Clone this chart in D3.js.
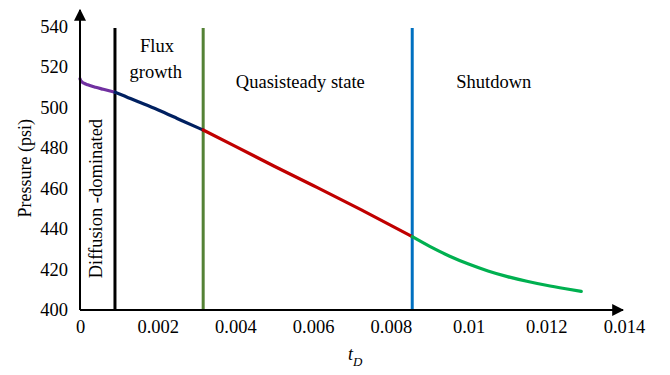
<!DOCTYPE html>
<html>
<head>
<meta charset="utf-8">
<script src="https://cdn.jsdelivr.net/npm/d3@7/dist/d3.min.js"></script>
<style>
  html, body { margin: 0; padding: 0; background: #fff; }
  svg { display: block; }
  svg text { font-family: "Liberation Serif", "Times New Roman", serif; fill: #000; }
</style>
</head>
<body>
<svg id="chart" width="670" height="375"></svg>
<script>
// Pressure history by flow regime (dimensionless time t_D vs pressure, psi)
const diffusionT = [0, 0.00003, 0.0001, 0.0002, 0.0004, 0.0006, 0.0009];
const diffusionP = [514.2, 513.0, 512.0, 511.2, 510.0, 509.0, 507.5];

const fluxT = [0.0009, 0.0012, 0.0015, 0.002, 0.0025, 0.003, 0.00317];
const fluxP = [507.5, 505.2, 502.8, 498.9, 494.6, 490.3, 488.9];

const quasiT = [0.00317, 0.004, 0.005, 0.006, 0.007, 0.008, 0.00855];
const quasiP = [488.9, 480.8, 471.0, 461.5, 451.8, 441.8, 436.2];

const shutdownT = [0.00855, 0.009, 0.0095, 0.01, 0.0105, 0.011, 0.0115, 0.012, 0.0125, 0.0129];
const shutdownP = [436.2, 431.4, 426.7, 422.7, 419.3, 416.5, 414.2, 412.2, 410.5, 409.2];

// Regime boundaries (vertical markers)
const boundaryT = [0.0009, 0.00317, 0.00855];
const boundaryColors = ["#000000", "#548235", "#0070C0"];

const xTicks = [0, 0.002, 0.004, 0.006, 0.008, 0.01, 0.012, 0.014];
const xTickLabels = ["0", "0.002", "0.004", "0.006", "0.008", "0.01", "0.012", "0.014"];
const yTicks = [400, 420, 440, 460, 480, 500, 520, 540];

const svg = d3.select("#chart");
const x = d3.scaleLinear().domain([0, 0.014]).range([80, 624]);
const y = d3.scaleLinear().domain([400, 540]).range([310, 26.5]);

// Arrowhead for the axes
svg.append("defs").append("marker")
  .attr("id", "arrow")
  .attr("viewBox", "0 0 10 10")
  .attr("refX", 9).attr("refY", 5)
  .attr("markerWidth", 6).attr("markerHeight", 6)
  .attr("markerUnits", "strokeWidth")
  .attr("orient", "auto")
  .append("path").attr("d", "M0,0 L10,5 L0,10 Z").attr("fill", "#000");

// Regime boundary lines
svg.append("g").selectAll("line")
  .data(boundaryT)
  .join("line")
  .attr("x1", d => x(d)).attr("x2", d => x(d))
  .attr("y1", y(400)).attr("y2", y(539.2))
  .attr("stroke", (d, i) => boundaryColors[i])
  .attr("stroke-width", 3);

// Pressure curve, one coloured segment per regime
const segments = [
  { t: diffusionT, p: diffusionP, color: "#7030A0", curve: d3.curveMonotoneX },
  { t: fluxT, p: fluxP, color: "#002060", curve: d3.curveNatural },
  { t: quasiT, p: quasiP, color: "#C00000", curve: d3.curveNatural },
  { t: shutdownT, p: shutdownP, color: "#00B050", curve: d3.curveNatural }
];
svg.append("g").selectAll("path")
  .data(segments)
  .join("path")
  .attr("d", s => d3.line()
    .x(d => x(d[0])).y(d => y(d[1]))
    .curve(s.curve)(s.t.map((t, i) => [t, s.p[i]])))
  .attr("fill", "none")
  .attr("stroke", s => s.color)
  .attr("stroke-width", 3.2)
  .attr("stroke-linecap", "round");

// Axes
const xAxis = d3.axisBottom(x).tickValues(xTicks)
  .tickFormat((d, i) => xTickLabels[i]).tickSize(0).tickPadding(10);
const gx = svg.append("g").attr("transform", `translate(0,${y(400)})`).call(xAxis)
  .attr("font-family", null).attr("font-size", null);
gx.select(".domain").remove();
gx.selectAll("text").style("font-size", "18.5px");

const yAxis = d3.axisLeft(y).tickValues(yTicks).tickSize(0).tickPadding(12);
const gy = svg.append("g").attr("transform", `translate(${x(0)},0)`).call(yAxis)
  .attr("font-family", null).attr("font-size", null);
gy.select(".domain").remove();
gy.selectAll("text").style("font-size", "18.5px");

svg.append("line")
  .attr("x1", x(0)).attr("x2", x(0) + 543)
  .attr("y1", y(400)).attr("y2", y(400))
  .attr("stroke", "#000").attr("stroke-width", 2)
  .attr("marker-end", "url(#arrow)");
svg.append("line")
  .attr("x1", x(0)).attr("x2", x(0))
  .attr("y1", y(400)).attr("y2", 10)
  .attr("stroke", "#000").attr("stroke-width", 2)
  .attr("marker-end", "url(#arrow)");

// Axis titles
svg.append("text")
  .attr("transform", `translate(25,${y(470)}) rotate(-90)`)
  .attr("text-anchor", "middle").attr("dominant-baseline", "central")
  .style("font-size", "18px").text("Pressure (psi)");

const tLabel = svg.append("text")
  .attr("x", x(0.007) - 4).attr("y", 360)
  .style("font-size", "18px").style("font-style", "italic");
tLabel.append("tspan").text("t");
tLabel.append("tspan").attr("dy", 6).style("font-size", "13px").text("D");

// Regime labels
const labels = svg.append("g").style("font-size", "18.5px");
labels.append("text").attr("x", x(0.00198)).attr("y", y(530.4))
  .attr("text-anchor", "middle").attr("dominant-baseline", "central").text("Flux");
labels.append("text").attr("x", x(0.00195)).attr("y", y(517.4))
  .attr("text-anchor", "middle").attr("dominant-baseline", "central").text("growth");
labels.append("text").attr("x", x(0.00567)).attr("y", y(512.6))
  .attr("text-anchor", "middle").attr("dominant-baseline", "central").text("Quasisteady state");
labels.append("text").attr("x", x(0.01065)).attr("y", y(512.6))
  .attr("text-anchor", "middle").attr("dominant-baseline", "central").text("Shutdown");
labels.append("text")
  .attr("transform", `translate(96,${y(455)}) rotate(-90)`)
  .attr("text-anchor", "middle").attr("dominant-baseline", "central")
  .text("Diffusion -dominated");
</script>
</body>
</html>
